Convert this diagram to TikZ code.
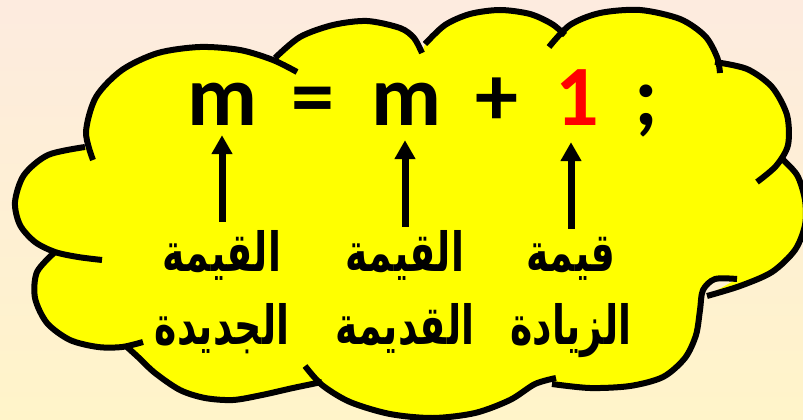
\documentclass[tikz,border=0pt]{standalone}
\usepackage{fontspec}
\usetikzlibrary{positioning,arrows.meta}
\newfontfamily\eqfont{Carlito}
\newfontfamily\arabicfont[Script=Arabic,FakeStretch=0.7]{DejaVu Sans}
\TeXXeTstate=1
\definecolor{BgTop}{RGB}{253,235,223}
\definecolor{BgBottom}{RGB}{255,244,201}
\definecolor{CloudYellow}{RGB}{255,255,0}
\definecolor{OneRed}{RGB}{255,0,0}

\begin{document}
\begin{tikzpicture}[x=1pt,y=-1pt,
  cloudline/.style={line width=6pt,black},
  eqtext/.style={font=\eqfont\bfseries\fontsize{86}{86}\selectfont,inner sep=0pt,anchor=base},
  lbl/.style={font=\arabicfont\bfseries\fontsize{54}{54}\selectfont,inner sep=0pt,anchor=base},
  uparrow/.style={line width=7pt,-{Triangle[width=20pt,length=19pt]}}]
\useasboundingbox (0,0) rectangle (803,420);
\shade[top color=BgTop,bottom color=BgBottom] (0,0) rectangle (803,420);
% cloud bumps
\def\bumpA{(93,160) (86,132) (96,97) (122,70) (158,53) (200,47) (240,50) (273,60) (297,72)}
\def\bumpB{(275,58) (300,37) (333,25) (367,21) (400,28) (414,38) (422,53)}
\def\bumpC{(425,44) (445,25) (470,14) (500,10) (530,14) (552,24) (565,35)}
\def\bumpD{(549,47) (570,25) (600,13) (640,10) (680,19) (705,36) (717,57) (720,73)}
\def\bumpE{(715,62) (747,69) (772,87) (787,115) (788,145) (776,166) (757,182)}
\def\bumpF{(780,157) (797,175) (805,200) (805,225) (795,250) (772,272) (740,286) (707,296)}
\def\bumpG{(737,279) (715,279) (703,290) (700,310) (696,335) (685,358) (663,377) (630,386) (590,388) (552,384)}
\def\bumpH{(556,378) (535,384) (510,400) (475,413) (433,418) (390,414) (350,402) (322,385) (305,366)}
\def\bumpI{(322,382) (293,388) (262,395) (233,400) (205,398) (180,390) (155,373) (138,357) (127,347)}
\def\bumpJ{(143,342) (122,347) (98,347) (70,340) (47,323) (35,298) (37,272) (55,252)}
\def\bumpK{(102,260) (78,257) (55,252) (35,242) (20,225) (15,202) (24,175) (48,155) (85,147)}
\begin{scope}
\clip (0,0) rectangle (803,420);
\fill[CloudYellow] plot[smooth] coordinates {\bumpA} -- plot[smooth] coordinates {\bumpB}
  -- plot[smooth] coordinates {\bumpC} -- plot[smooth] coordinates {\bumpD}
  -- plot[smooth] coordinates {\bumpE} -- plot[smooth] coordinates {\bumpF}
  -- plot[smooth] coordinates {\bumpG} -- plot[smooth] coordinates {\bumpH}
  -- plot[smooth] coordinates {\bumpI} -- plot[smooth] coordinates {\bumpJ}
  -- plot[smooth] coordinates {\bumpK} -- cycle;
\draw[cloudline] plot[smooth] coordinates {\bumpA};
\draw[cloudline] plot[smooth] coordinates {\bumpB};
\draw[cloudline] plot[smooth] coordinates {\bumpC};
\draw[cloudline] plot[smooth] coordinates {\bumpD};
\draw[cloudline] plot[smooth] coordinates {\bumpE};
\draw[cloudline] plot[smooth] coordinates {\bumpF};
\draw[cloudline] plot[smooth] coordinates {\bumpG};
\draw[cloudline] plot[smooth] coordinates {\bumpH};
\draw[cloudline] plot[smooth] coordinates {\bumpI};
\draw[cloudline] plot[smooth] coordinates {\bumpJ};
\draw[cloudline] plot[smooth] coordinates {\bumpK};
\end{scope}
% the statement
\node[eqtext] (m1) at (222,125) {m};
\node[eqtext] (eq) at (313,125) {=};
\node[eqtext] (m2) at (406,125) {m};
\node[eqtext] (plus) at (497,125) {+};
\node[eqtext,text=OneRed] (one) at (577,125) {1};
\node[eqtext] (semi) at (646,125) {;};
% labels, two lines each
\node[lbl] (lbl1) at (222,271) {\beginR القيمة\endR};
\node[lbl] (lbl1b) at (222,344) {\beginR الجديدة\endR};
\node[lbl] (lbl2) at (405,271) {\beginR القيمة\endR};
\node[lbl] (lbl2b) at (405,344) {\beginR القديمة\endR};
\node[lbl] (lbl3) at (571,271) {\beginR قيمة\endR};
\node[lbl] (lbl3b) at (571,344) {\beginR الزيادة\endR};
\draw[uparrow,shorten <=8pt,shorten >=10pt] (lbl1.north) -- (lbl1.north |- m1.south);
\draw[uparrow,shorten <=3pt,shorten >=15pt] (lbl2.north) -- (lbl2.north |- m2.south);
\draw[uparrow,shorten <=8pt,shorten >=17pt] (lbl3.north) -- (lbl3.north |- one.south);
\end{tikzpicture}
\end{document}
